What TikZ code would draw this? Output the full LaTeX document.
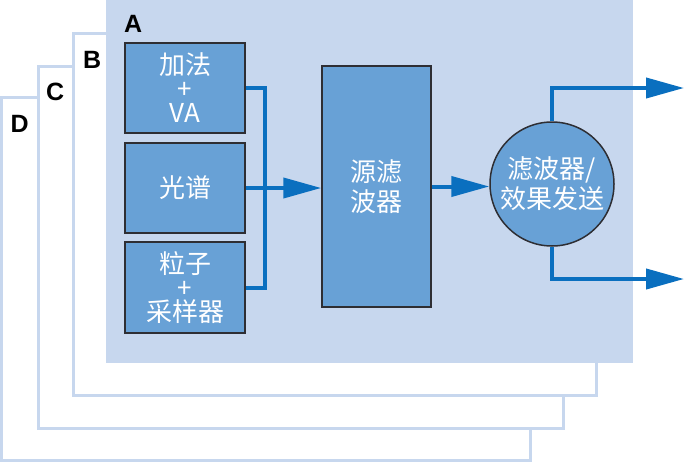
\documentclass[tikz,border=0pt]{standalone}
\usepackage{fontspec}
\newfontfamily\cjk{Noto Sans CJK SC}
\newfontfamily\labfont{Liberation Sans}
\usetikzlibrary{arrows.meta}
\definecolor{panelblue}{HTML}{C7D7EE}
\definecolor{boxblue}{HTML}{68A1D6}
\definecolor{arrowblue}{HTML}{0A6FBF}
\definecolor{boxborder}{HTML}{2E2E33}
\tikzset{
  panel/.style={draw=panelblue, line width=3pt, fill=white},
  panellabel/.style={anchor=base west, font=\labfont\bfseries\fontsize{25}{25}\selectfont, inner sep=0pt},
  block/.style={draw=boxborder, line width=1.5pt, fill=boxblue, text=white, align=center, inner sep=0pt,
    font=\cjk\fontsize{26}{24}\selectfont},
  conn/.style={draw=arrowblue, line width=4pt},
  arr/.style={conn, -{Triangle[length=38pt,width=20pt]}},
}
\begin{document}
\begin{tikzpicture}[x=1pt,y=-1pt]
\useasboundingbox (0,0) rectangle (684,463);
% panels
\draw[panel] (1.5,97) rectangle (530,460);
\draw[panel] (38,66) rectangle (563.5,428);
\draw[panel] (73.5,33.5) rectangle (596.5,395.5);
\fill[panelblue] (106,0) rectangle (633,363);
\node[panellabel] (lA) at (124,32) {A};
\node[panellabel] (lB) at (83,68) {B};
\node[panellabel] (lC) at (46,100) {C};
\node[panellabel] (lD) at (10.5,132) {D};
% blocks
\node[block, minimum width=120pt, minimum height=90pt] (b1) at (185,88) {加法\\+\\VA};
\node[block, minimum width=120pt, minimum height=90pt] (b2) at (185,188) {光谱};
\node[block, minimum width=120pt, minimum height=91pt] (b3) at (185,287.5) {粒子\\+\\采样器};
\node[block, minimum width=109pt, minimum height=241pt, font=\cjk\fontsize{26}{30}\selectfont] (sf) at (376.5,186.5) {源滤\\波器};
\node[block, circle, minimum size=124pt, font=\cjk\fontsize{26}{30}\selectfont] (fx) at (552,184) {滤波器/\\效果发送};
% connectors
\coordinate (jx) at (265,0);
\coordinate (o1) at (684,88);
\coordinate (o2) at (684,279);
\draw[conn] (b1.east) -- (b1.east -| jx) -- (b3.east -| jx) -- (b3.east);
\draw[arr] (b2.east) -- (b2.east -| sf.west);
\draw[arr] (sf.east) -- (sf.east -| fx.west);
\draw[arr] (fx.north) |- (o1);
\draw[arr] (fx.south) |- (o2);
\end{tikzpicture}
\end{document}
